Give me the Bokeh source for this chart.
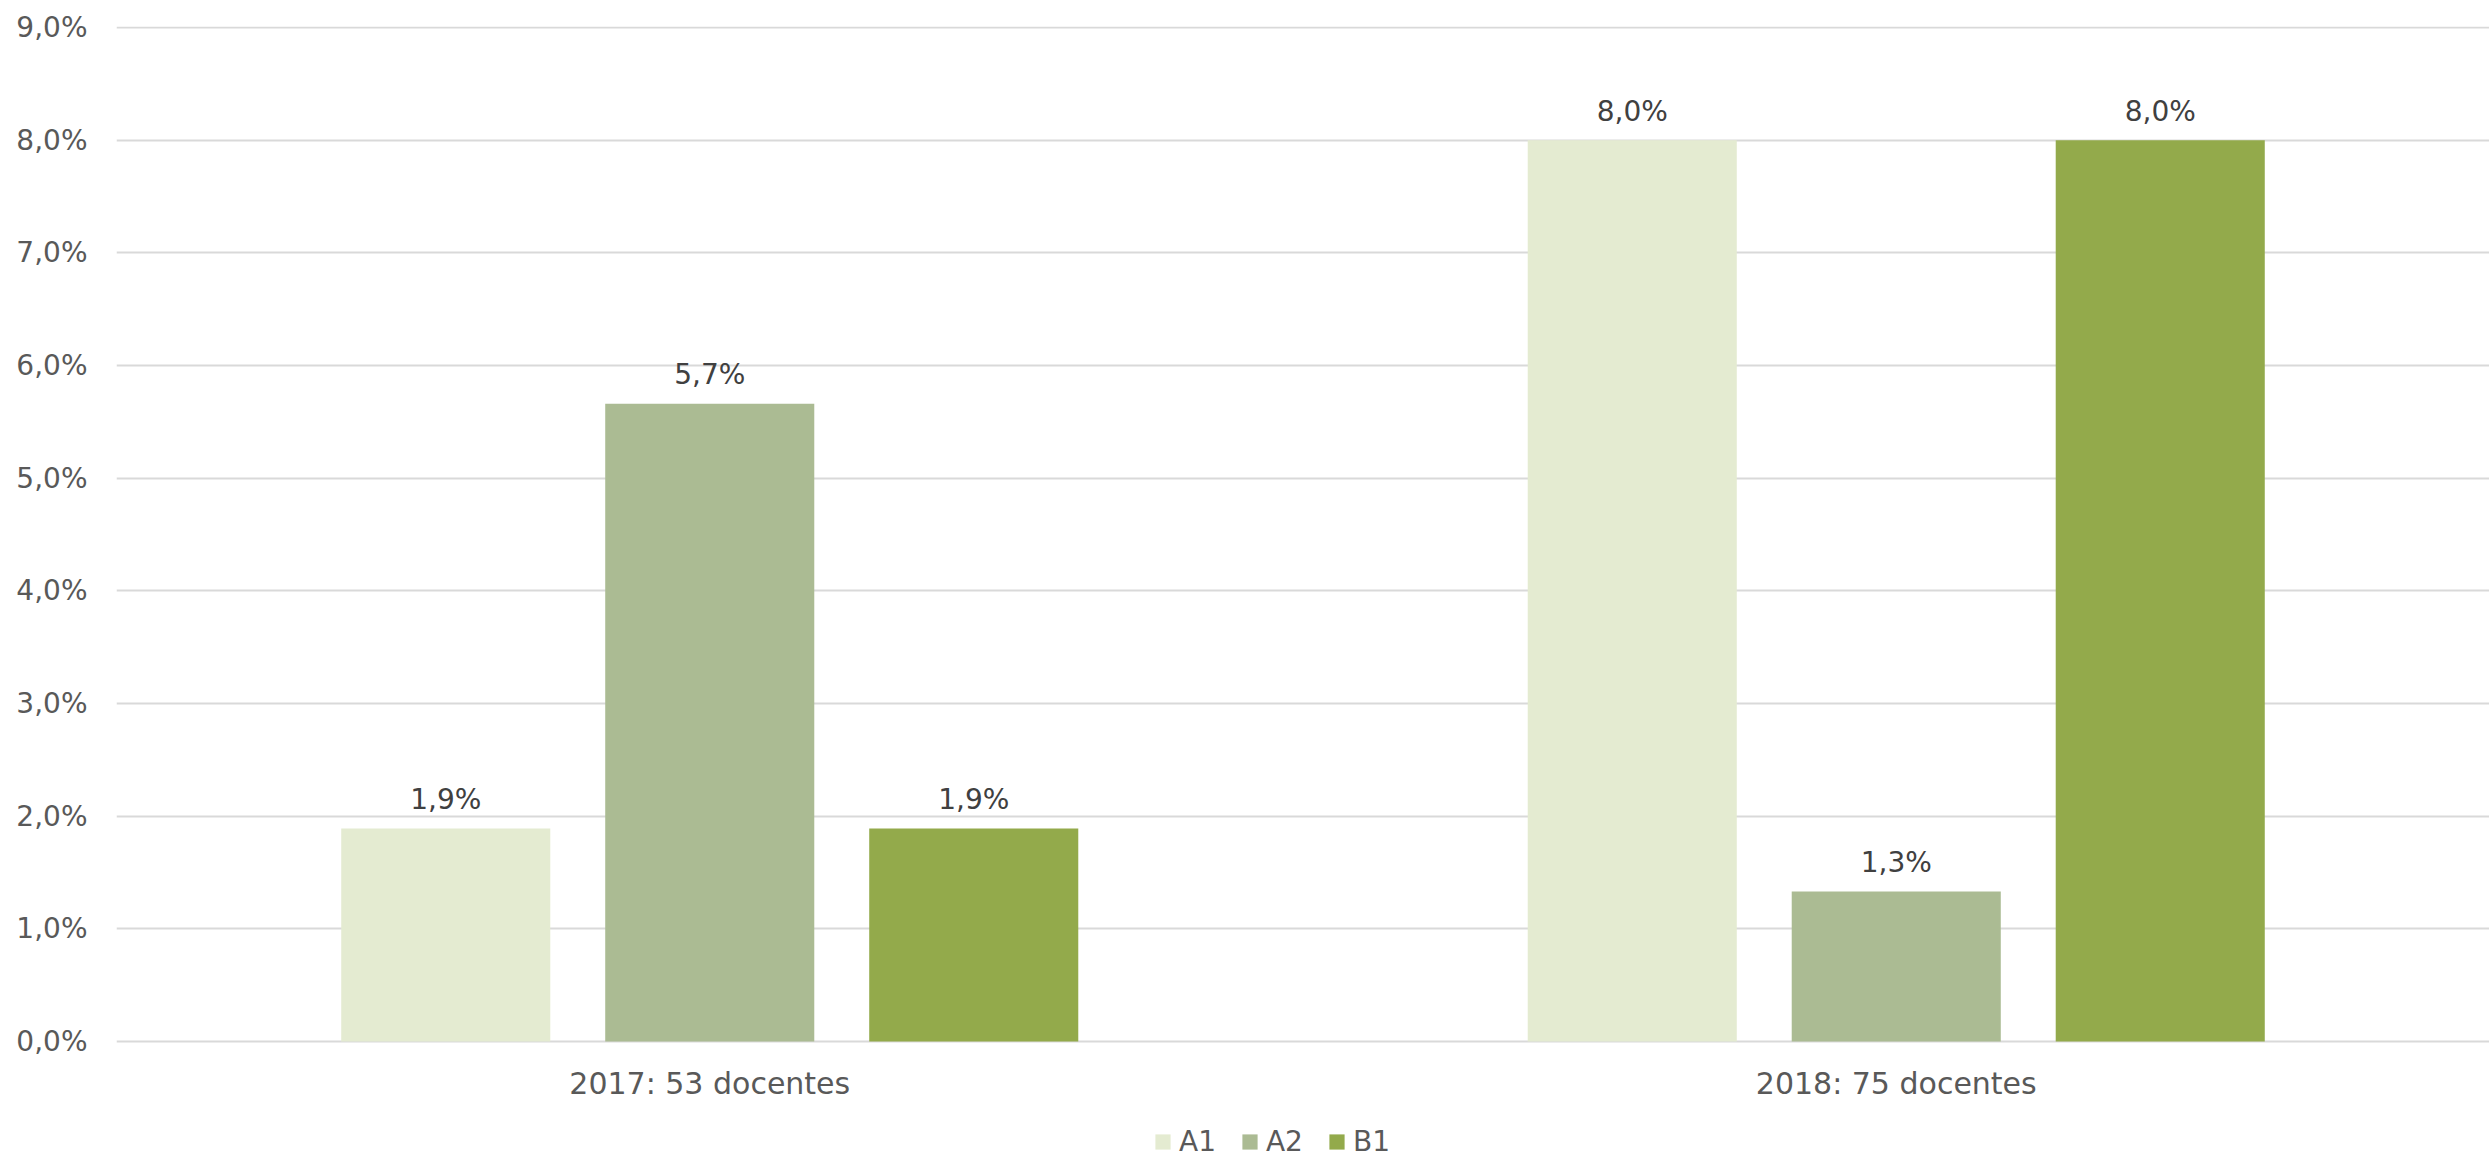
from bokeh.plotting import figure
from bokeh.models import ColumnDataSource, FactorRange, Range1d, Legend, LegendItem, FixedTicker
from bokeh.transform import dodge
from bokeh.core.properties import value
from bokeh.embed import file_html
from bokeh.resources import INLINE

categories = ["2017: 53 docentes", "2018: 75 docentes"]
series = ["A1", "A2", "B1"]
a1_values = [1.89, 8.0]
a2_values = [5.66, 1.33]
b1_values = [1.89, 8.0]
y_ticks = [0, 1, 2, 3, 4, 5, 6, 7, 8, 9]
y_tick_labels = ["0,0%", "1,0%", "2,0%", "3,0%", "4,0%", "5,0%", "6,0%", "7,0%", "8,0%", "9,0%"]
colors = ["#E4EBD1", "#ABBB93", "#93AA4B"]

FONT = "DejaVu Sans"
GREY = "#595959"

# frame runs to the bottom of the canvas; the region below 0 holds category labels and legend
p = figure(x_range=FactorRange(*categories), y_range=Range1d(-1.039, 9.009),
           width=2489, height=1158, output_backend="svg", toolbar_location=None,
           x_axis_location=None,
           min_border_left=116, min_border_top=26, min_border_right=0, min_border_bottom=0)
p.outline_line_color = None
p.background_fill_color = "white"

offsets = [-0.2225, 0.0, 0.2225]
all_values = [a1_values, a2_values, b1_values]
items = []
for name, vals, off, col in zip(series, all_values, offsets, colors):
    src = ColumnDataSource(dict(cat=categories, val=vals,
                                label=[f"{v:.1f}".replace(".", ",") + "%" for v in vals]))
    r = p.vbar(x=dodge("cat", off, range=p.x_range), top="val", width=0.1762, bottom=0,
               source=src, fill_color=col, line_color=None)
    p.text(x=dodge("cat", off, range=p.x_range), y="val", text="label", source=src,
           text_align="center", text_baseline="alphabetic", y_offset=-29,
           text_font=value(FONT), text_font_size="28px", text_color="#404040")
    items.append(LegendItem(label=name, renderers=[r]))

# category labels under the zero line
cat_src = ColumnDataSource(dict(cat=categories, y=[0] * len(categories)))
p.text(x="cat", y="y", text="cat", source=cat_src, text_align="center",
       text_baseline="alphabetic", y_offset=42,
       text_font=value(FONT), text_font_size="30px", text_color=GREY)

p.xgrid.grid_line_color = None
p.ygrid.grid_line_color = "#D9D9D9"
p.ygrid.grid_line_width = 2
p.yaxis.ticker = FixedTicker(ticks=y_ticks)
p.yaxis.major_label_overrides = {t: l for t, l in zip(y_ticks, y_tick_labels)}
p.yaxis.axis_line_color = None
p.yaxis.major_tick_line_color = None
p.yaxis.minor_tick_line_color = None
p.yaxis.major_tick_out = 0
p.yaxis.major_label_standoff = 29
p.yaxis.major_label_text_font = FONT
p.yaxis.major_label_text_font_size = "28px"
p.yaxis.major_label_text_color = GREY

legend = Legend(items=items, orientation="horizontal", location=(1037, 0),
                padding=0, margin=0, spacing=24, label_standoff=7,
                glyph_width=19, glyph_height=19, label_height=19,
                label_text_font=FONT, label_text_font_size="28px", label_text_color=GREY,
                border_line_color=None, background_fill_alpha=0)
p.add_layout(legend)

open("out.html", "w").write(file_html(p, INLINE))
